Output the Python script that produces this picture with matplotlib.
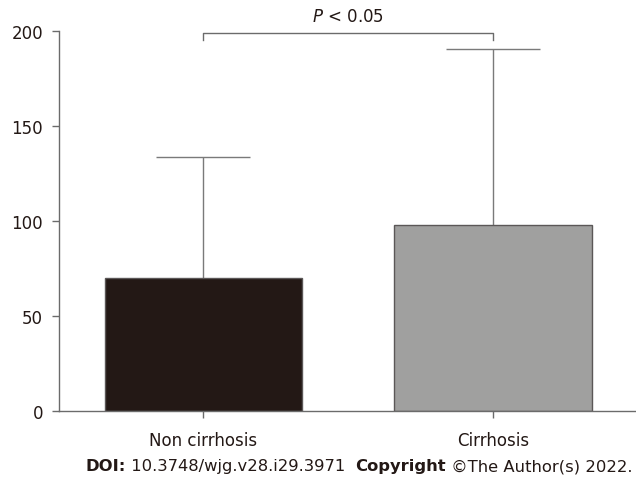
import matplotlib.pyplot as plt
from matplotlib.offsetbox import TextArea, HPacker, AnnotationBbox

groups = ["Non cirrhosis", "Cirrhosis"]
means = [70, 98]
sd_upper = [63.5, 92.5]
bar_colors = ["#231815", "#a0a09f"]
p_label = "$P$ < 0.05"

fig = plt.figure(figsize=(6.36, 4.81), dpi=100)
ax = fig.add_axes([59 / 636, (481 - 412) / 481, 1 - 59 / 636, 380 / 481])

x = list(range(len(groups)))
tops = [m + s for m, s in zip(means, sd_upper)]
cap = 0.163
# error bars (upper only, behind the bars)
ax.vlines(x, means, tops, color="#7a7a7a", lw=1.0, zorder=1)
ax.hlines(tops, [i - cap for i in x], [i + cap for i in x], color="#7a7a7a", lw=1.0, zorder=1)
ax.bar(x, means, width=0.68, color=bar_colors, edgecolor="#5b5757", linewidth=1.0, zorder=2)

ax.set_xlim(-0.497, 1.493)
ax.set_ylim(0, 200)
ax.set_yticks([0, 50, 100, 150, 200])
ax.set_xticks(x)
ax.set_xticklabels(groups)

for s in ["top", "right"]:
    ax.spines[s].set_visible(False)
for s in ["left", "bottom"]:
    ax.spines[s].set_color("#6b6b6b")
    ax.spines[s].set_linewidth(1.0)
ax.tick_params(axis="both", direction="out", length=5, width=1.0, color="#6b6b6b",
               labelsize=12, labelcolor="#231815")
ax.tick_params(axis="y", pad=6.5)
ax.tick_params(axis="x", pad=9.5)

# significance bracket
yb = 199
ax.plot([0, 0, 1, 1], [yb - 3.5, yb, yb, yb - 3.5], color="#6b6b6b", lw=1.0, clip_on=False)
ax.text(0.5, yb + 4, p_label, ha="center", va="bottom", fontsize=12, color="#231815")

# footer
parts = [("DOI:", "bold"), (" 10.3748/wjg.v28.i29.3971  ", "normal"),
         ("Copyright", "bold"), (" \u00a9The Author(s) 2022.", "normal")]
boxes = [TextArea(t, textprops=dict(fontsize=11.8, fontweight=w, color="#231815")) for t, w in parts]
pack = HPacker(children=boxes, pad=0, sep=0)
ab = AnnotationBbox(pack, (359 / 636, 1 - 467 / 481), xycoords="figure fraction", frameon=False,
                    box_alignment=(0.5, 0.5))
fig.add_artist(ab)

fig.savefig("out.png", dpi=100)
